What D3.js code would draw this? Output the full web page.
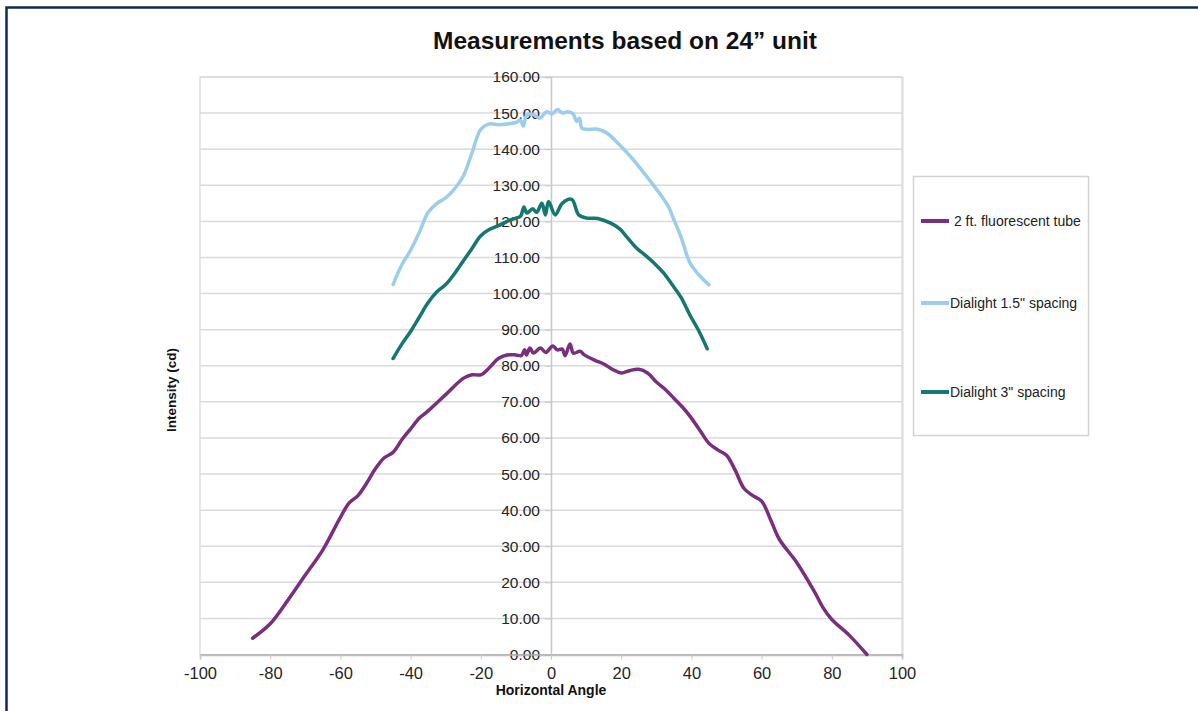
<!DOCTYPE html>
<html>
<head>
<meta charset="utf-8">
<script src="https://cdn.jsdelivr.net/npm/d3@7"></script>
<style>
  body { margin: 0; background: #fff; }
  svg { display: block; font-family: Arial, "Liberation Sans", sans-serif; }
  .legend-label { white-space: pre; }
</style>
</head>
<body>
<svg id="vis-container"></svg>
<script>
const WIDTH = 1198
const HEIGHT = 711
const CONTAINER = d3.select("#vis-container")

const TITLE = "Measurements based on 24\u201d unit"
const X_LABEL = "Horizontal Angle"
const Y_LABEL = "Intensity (cd)"
const X_TICKS = [-100, -80, -60, -40, -20, 0, 20, 40, 60, 80, 100]
const Y_TICKS = [0, 10, 20, 30, 40, 50, 60, 70, 80, 90, 100, 110, 120, 130, 140, 150, 160]

const SERIES_NAMES = [" 2 ft. fluorescent tube", "Dialight 1.5\" spacing", "Dialight 3\" spacing"]
const SERIES_COLORS = ["#7a2e7e", "#9dcdec", "#15776f"]

// [angle, cd]
const tube = [
    [-85, 4.5], [-80, 8.5], [-75, 15], [-70, 22], [-65, 29], [-60, 38], [-57.5, 42], [-55, 44],
    [-52.5, 47.5], [-50, 51.5], [-47.5, 54.5], [-45, 56], [-42.5, 59.5], [-40, 62.5], [-37.5, 65.5],
    [-35, 67.5], [-30, 72], [-25, 76.5], [-22.5, 77.5], [-20, 77.5], [-17.5, 79.5], [-15, 82],
    [-12.5, 83], [-10, 83], [-8.5, 82.8], [-7.5, 84.4], [-7, 83], [-6, 84.9], [-5, 83.5],
    [-3, 84.9], [-1.5, 83.7], [0.5, 85.5], [1.8, 84.4], [3.2, 84.6], [4, 82.8], [5.4, 86],
    [6.4, 83.5], [8.3, 84], [9.5, 83], [12.5, 81.5], [15, 80.5], [17.5, 79], [20, 78], [22.5, 78.7],
    [25, 79], [27.5, 78], [30, 75.5], [32.5, 73.5], [35, 71], [37.5, 68.5], [40, 65.5], [42.5, 62],
    [45, 58.5], [47.5, 56.7], [50, 55.2], [52.5, 51], [55, 46], [57.5, 44], [60, 42.5], [62.5, 37.5],
    [65, 32], [70, 25.5], [75, 17.5], [77.5, 13], [80, 9.7], [85, 5.3], [90, 0]
]
const dialight15 = [
    [-45, 102.5], [-42.5, 108], [-40, 112], [-37.5, 117], [-35, 122.5], [-32.5, 125], [-30, 126.5],
    [-27.5, 129], [-25, 132.5], [-22.5, 139], [-20, 145.5], [-17.5, 147], [-15, 146.8], [-12.5, 147],
    [-10, 147.4], [-8.7, 148], [-7.9, 146.4], [-6.9, 149.5], [-5.2, 149.7], [-3.2, 148.6],
    [-1.2, 150.4], [0.3, 149.8], [1.8, 151], [3.3, 150], [4.8, 150.4], [6.3, 149.8], [7.3, 147.7],
    [8.1, 148.6], [8.8, 145.8], [10.3, 145.5], [13.3, 145.5], [16, 144.4], [19.5, 141.2],
    [23.5, 137], [27.3, 132.4], [31.5, 127], [33.5, 124], [35, 120.5], [37, 115.8], [39.6, 108.5],
    [42.3, 105], [45, 102.4]
]
const dialight3 = [
    [-45, 82], [-42.5, 86], [-40, 89.5], [-37.5, 93.5], [-35, 97.5], [-32.5, 100.5], [-30, 102.5],
    [-27.5, 105.5], [-25, 109], [-22.5, 112.5], [-20, 116], [-17.5, 117.8], [-15, 118.8],
    [-12.5, 120], [-10, 120.9], [-8.7, 121.4], [-7.7, 124], [-6.9, 122.3], [-5.2, 123.5],
    [-4.1, 122.5], [-2.6, 125], [-1.6, 121.8], [-0.7, 125.5], [1.2, 121.8], [3.2, 125],
    [5.9, 126.1], [7.9, 121.8], [10.3, 120.9], [13.3, 120.8], [17, 119.5], [19.5, 118],
    [22, 115.2], [24.5, 112.5], [27, 110.5], [29.5, 108.3], [32, 105.8], [34.5, 102.5],
    [37, 99], [39.6, 94], [42.2, 89.5], [44.5, 84.7]
]
const SERIES = [tube, dialight15, dialight3]

initVisualization()

function initVisualization() {
    CONTAINER.attr('width', WIDTH).attr('height', HEIGHT)

    // outer navy frame
    CONTAINER.append('rect')
        .attr('x', 6.5).attr('y', 7.5)
        .attr('width', WIDTH + 20).attr('height', HEIGHT + 20)
        .attr('fill', 'none').attr('stroke', '#0f2a58').attr('stroke-width', 2.5)

    const x = d3.scaleLinear().domain([-100, 100]).range([200, 902])
    const y = d3.scaleLinear().domain([0, 160]).range([654.5, 77])

    // plot area
    CONTAINER.append('rect')
        .attr('x', 201).attr('y', 78)
        .attr('width', 702).attr('height', 578)
        .attr('fill', 'none').attr('stroke', '#ececec').attr('stroke-width', 2)
    CONTAINER.append('rect')
        .attr('x', x(-100)).attr('y', y(160))
        .attr('width', x(100) - x(-100)).attr('height', y(0) - y(160))
        .attr('fill', '#fff').attr('stroke', '#cfcfcf').attr('stroke-width', 1)

    // horizontal gridlines
    CONTAINER.append('g').selectAll('line')
        .data(Y_TICKS.filter(d => d > 0))
        .join('line')
        .attr('x1', x(-100)).attr('x2', x(100))
        .attr('y1', d => y(d)).attr('y2', d => y(d))
        .attr('stroke', '#dadada').attr('stroke-width', 1.5)

    // y axis sitting on angle 0
    const yAxis = d3.axisLeft(y).tickValues(Y_TICKS).tickSize(6).tickPadding(5)
        .tickFormat(d => d.toFixed(2))
    const gy = CONTAINER.append('g')
        .attr('transform', `translate(${x(0)},0)`)
        .call(yAxis)
    gy.select('.domain').attr('stroke', '#c8c8c8').attr('stroke-width', 1.5)
    gy.selectAll('.tick line').attr('stroke', '#c8c8c8')
    gy.selectAll('text').attr('font-size', 15.5).attr('fill', '#262626')
        .attr('font-family', 'Arial, "Liberation Sans", sans-serif')

    // x axis
    const xAxis = d3.axisBottom(x).tickValues(X_TICKS).tickSize(5).tickPadding(8)
        .tickFormat(d => String(d))
    const gx = CONTAINER.append('g')
        .attr('transform', `translate(0,${y(0)})`)
        .call(xAxis)
    gx.select('.domain').attr('stroke', '#b0b0b0').attr('stroke-width', 1.5)
    gx.selectAll('.tick line').attr('stroke', '#c8c8c8')
    gx.selectAll('text').attr('font-size', 16.5).attr('fill', '#262626')
        .attr('font-family', 'Arial, "Liberation Sans", sans-serif')

    // series
    const line = d3.line()
        .x(d => x(d[0]))
        .y(d => y(d[1]))
        .curve(d3.curveCatmullRom.alpha(0.5))

    CONTAINER.append('g').selectAll('path')
        .data(SERIES)
        .join('path')
        .attr('d', line)
        .attr('fill', 'none')
        .attr('stroke', (d, i) => SERIES_COLORS[i])
        .attr('stroke-width', 3.5)
        .attr('stroke-linejoin', 'round')
        .attr('stroke-linecap', 'round')

    // titles
    CONTAINER.append('text')
        .attr('x', 625).attr('y', 49)
        .attr('text-anchor', 'middle')
        .attr('font-size', 24.5).attr('font-weight', 'bold').attr('fill', '#111')
        .text(TITLE)

    CONTAINER.append('text')
        .attr('x', x(0)).attr('y', 695)
        .attr('text-anchor', 'middle')
        .attr('font-size', 14).attr('font-weight', 'bold').attr('fill', '#111')
        .text(X_LABEL)

    CONTAINER.append('text')
        .attr('transform', 'translate(176,390) rotate(-90)')
        .attr('text-anchor', 'middle')
        .attr('font-size', 13.5).attr('font-weight', 'bold').attr('fill', '#111')
        .text(Y_LABEL)

    // legend
    const legend = CONTAINER.append('g')
    legend.append('rect')
        .attr('x', 913.5).attr('y', 176.5)
        .attr('width', 175).attr('height', 259)
        .attr('fill', '#fff').attr('stroke', '#d4d4d4').attr('stroke-width', 1.5)

    const rowY = [221, 303, 392]
    const rows = legend.selectAll('g.row')
        .data(SERIES_NAMES)
        .join('g')
        .attr('class', 'row')
        .attr('transform', (d, i) => `translate(0,${rowY[i]})`)
    rows.append('line')
        .attr('x1', 921).attr('x2', 949)
        .attr('stroke', (d, i) => SERIES_COLORS[i])
        .attr('stroke-width', 4)
    rows.append('text')
        .attr('class', 'legend-label')
        .attr('x', 950).attr('dy', '0.35em')
        .attr('font-size', 14).attr('fill', '#222')
        .text(d => d)
}
</script>
</body>
</html>
